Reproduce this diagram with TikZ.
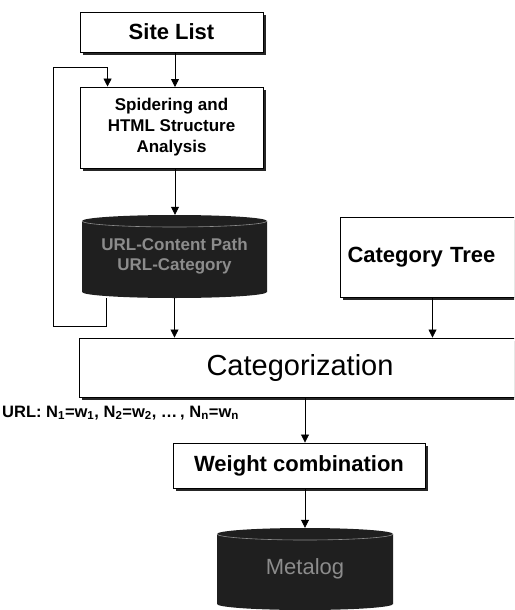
\documentclass[tikz,border=0pt]{standalone}
\usepackage{fontspec}
\setmainfont{Liberation Sans}
\usetikzlibrary{arrows.meta,shadows,calc}
\begin{document}
\begin{tikzpicture}[x=1pt,y=-1pt,
  box/.style={draw=black, line width=0.9pt, fill=white, inner sep=0pt, align=center,
    drop shadow={shadow xshift=3pt, shadow yshift=-3pt, fill=black!85, opacity=1}},
  arr/.style={draw=black, line width=0.8pt, -{Triangle[length=8pt,width=8pt]}},
  line/.style={draw=black, line width=0.8pt},
  dbfill/.style={fill=black!88},
  dbtext/.style={text=black!45, font=\bfseries}]
\path[use as bounding box] (0,0) rectangle (514,610);
\clip (0,0) rectangle (514,610);

% nodes
\node[box, minimum width=183pt, minimum height=40pt, font=\bfseries\fontsize{22}{24}\selectfont]
  (sitelist) at (171.5,32) {Site List};
\node[box, minimum width=183pt, minimum height=81pt, font=\bfseries\fontsize{17}{21}\selectfont]
  (spider) at (171.5,127.5) {Spidering and\\HTML Structure\\Analysis};

% database 1
\fill[dbfill] (82,221) -- (82,292) arc[start angle=180, end angle=360, x radius=92.5pt, y radius=6pt]
  -- (267,221) arc[start angle=0, end angle=180, x radius=92.5pt, y radius=6pt] -- cycle;
\draw[black!45, line width=0.6pt] (82,221) arc[start angle=180, end angle=360, x radius=92.5pt, y radius=6pt];
\node[minimum width=185pt, minimum height=83pt, inner sep=0pt, align=center,
  dbtext, font=\bfseries\fontsize{17}{20}\selectfont] (db) at (174.5,256.5)
  {URL-Content Path\\URL-Category};

\node[box, minimum width=185pt, minimum height=80pt, font=\bfseries\fontsize{22}{24}\selectfont,
  text width=170pt, align=left]
  (catree) at (432.5,257) {Category Tree};

\node[box, minimum width=442pt, minimum height=59pt, font=\fontsize{29}{31}\selectfont]
  (cat) at (300,367.5) {Categorization};

\node[anchor=west, inner sep=0pt, font=\bfseries\fontsize{16.5}{18}\selectfont]
  (urllabel) at (2,413) {URL: N\textsubscript{1}=w\textsubscript{1}, N\textsubscript{2}=w\textsubscript{2}, \dots\,, N\textsubscript{n}=w\textsubscript{n}};

\node[box, minimum width=252pt, minimum height=45pt, font=\bfseries\fontsize{22}{24}\selectfont]
  (wc) at (299,465.5) {Weight combination};

% database 2
\fill[dbfill] (217,534) -- (217,604) arc[start angle=180, end angle=360, x radius=88pt, y radius=6pt]
  -- (393,534) arc[start angle=0, end angle=180, x radius=88pt, y radius=6pt] -- cycle;
\draw[black!45, line width=0.6pt] (217,534) arc[start angle=180, end angle=360, x radius=88pt, y radius=6pt];
\node[minimum width=176pt, minimum height=82pt, inner sep=0pt,
  dbtext, font=\fontsize{22}{24}\selectfont] (meta) at (305,569) {Metalog};

% coordinates for the feedback loop
\coordinate (fbL) at (53,326);
\coordinate (fbT) at (53,67);

% connectors
\draw[arr] (sitelist.south -| 175,0) -- (175,87);
\draw[arr] (spider.south -| 175,0) -- (db.north -| 175,0);
\draw[arr] ([xshift=25pt]db.south west) |- (fbL) -- (fbT) -| ([xshift=28pt]spider.north west);
\draw[arr] (db.south) -- (db.south |- cat.north);
\draw[arr] (catree.south) -- (catree.south |- cat.north);
\draw[arr] (cat.south -| 305,0) -- (wc.north -| 305,0);
\draw[arr] (wc.south -| meta.north) -- (meta.north);
\end{tikzpicture}
\end{document}
